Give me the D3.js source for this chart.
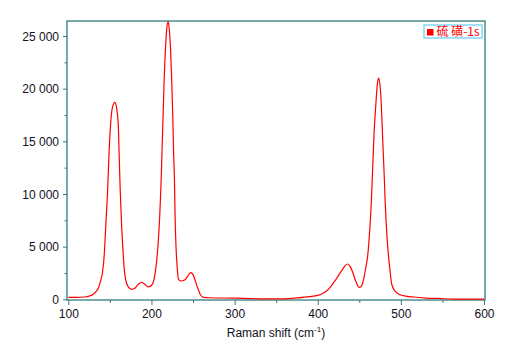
<!DOCTYPE html>
<html>
<head>
<meta charset="utf-8">
<script src="https://cdn.jsdelivr.net/npm/d3@7"></script>
<style>
    body { margin: 0; background: #fff; }
    svg { display: block; font-family: Arial, "Liberation Sans", sans-serif; }
</style>
</head>
<body>
<div id="chart"></div>
<script>
// Raman spectrum
var shifts = [100, 110, 120, 125, 130, 133, 136, 139, 141, 143, 145.2, 147.3, 148.8, 150.9, 153, 156,
    158, 160, 161.2, 162.4, 164, 166, 167, 169, 172, 176, 180, 184, 188, 192, 196, 199, 202, 205,
    207.6, 210, 211.6, 212.8, 214, 215.2, 216.9, 218.5, 220, 221.5, 222.9, 224.4, 225.6, 226.5,
    227.7, 228.4, 229.6, 231, 232.5, 235, 240, 244, 247, 250, 253, 255, 257.5, 259, 263, 270, 300,
    330, 360, 375, 390, 400, 406, 412, 420, 428, 433, 436, 439, 441, 446, 450, 452, 454, 458, 460,
    462, 464.4, 466, 467.6, 470, 471.8, 473.2, 474.8, 476.4, 478, 479.7, 481.2, 483.3, 485.2, 486.9,
    488.8, 492, 496, 500, 506, 515, 530, 545, 564, 580, 600];
var intensities = [190, 190, 220, 300, 480, 700, 1050, 1800, 2500, 4000, 7200, 10400, 13550, 16700, 18200, 18700,
    18200, 16700, 13550, 10400, 7200, 4300, 3100, 1850, 1200, 950, 1050, 1400, 1620, 1420, 1180, 1250, 1600, 2800,
    4850, 8000, 11170, 14350, 17500, 20670, 23850, 25800, 26370, 25600, 23850, 20670, 17500, 14350,
    11170, 8000, 4850, 3000, 1900, 1740, 1830, 2250, 2530, 2350, 1700, 1200, 700, 410, 190, 150, 110,
    50, 50, 130, 250, 380, 560, 880, 1670, 2620, 3200, 3350, 3100, 2780, 1670, 1140, 1200, 1520, 3100, 4050,
    5950, 9120, 12280, 15450, 18620, 20500, 21000, 20400, 18620, 15450, 12280, 9120, 5950, 4050, 2780,
    1520, 880, 580, 410, 310, 220, 120, 80, 20, 20, 20];
var xTicks = [100, 200, 300, 400, 500, 600];
var xMinorTicks = [150, 250, 350, 450, 550];
var yTicks = [0, 5000, 10000, 15000, 20000, 25000];
var yMinorTicks = [2500, 7500, 12500, 17500, 22500];
var seriesName = "硫 磺-1s";

var width = 526, height = 359,
    margin = {top: 21, right: 41, bottom: 59, left: 67},
    frameColor = "#327d7b";

var svg = d3.select("#chart").append("svg")
    .attr("width", width)
    .attr("height", height);

var xScale = d3.scaleLinear()
    .domain([98.4, 601.2])
    .range([margin.left, width - margin.right]);
var yScale = d3.scaleLinear()
    .domain([-66, 26424])
    .range([height - margin.bottom, margin.top]);

var fmt = function (d) {
    return d3.format(",")(d).replace(/,/g, " ");
};

// x axis, major then minor ticks
var xAxis = svg.append("g")
    .attr("transform", "translate(0," + (height - margin.bottom) + ")")
    .call(d3.axisBottom(xScale).tickValues(xTicks).tickSize(5).tickPadding(4).tickFormat(d3.format("d")));
svg.append("g")
    .attr("transform", "translate(0," + (height - margin.bottom) + ")")
    .call(d3.axisBottom(xScale).tickValues(xMinorTicks).tickSize(3).tickFormat(""))
    .call(function (g) { g.select(".domain").remove(); });

var yAxis = svg.append("g")
    .attr("transform", "translate(" + margin.left + ",0)")
    .call(d3.axisLeft(yScale).tickValues(yTicks).tickSize(4).tickPadding(4).tickFormat(fmt));
svg.append("g")
    .attr("transform", "translate(" + margin.left + ",0)")
    .call(d3.axisLeft(yScale).tickValues(yMinorTicks).tickSize(2.5).tickFormat(""))
    .call(function (g) { g.select(".domain").remove(); });

svg.selectAll(".domain").remove();
svg.selectAll(".tick line").attr("stroke", frameColor);
svg.selectAll(".tick text")
    .attr("fill", "#111122")
    .style("font-size", "12px");
yAxis.selectAll(".tick text").attr("dy", "0.36em");

// plot frame
svg.append("rect")
    .attr("x", margin.left)
    .attr("y", margin.top)
    .attr("width", width - margin.left - margin.right)
    .attr("height", height - margin.top - margin.bottom)
    .attr("fill", "none")
    .attr("stroke", frameColor)
    .attr("stroke-width", 1.3);

// spectrum
var points = shifts.map(function (s, i) { return [s, intensities[i]]; });
var line = d3.line()
    .x(function (d) { return xScale(d[0]); })
    .y(function (d) { return yScale(d[1]); })
    .curve(d3.curveMonotoneX);

svg.append("path")
    .datum(points)
    .attr("fill", "none")
    .attr("stroke", "#ff0000")
    .attr("stroke-width", 1.2)
    .attr("d", line);

// axis title with superscript
var title = svg.append("text")
    .attr("x", (margin.left + width - margin.right) / 2)
    .attr("y", 337)
    .attr("text-anchor", "middle")
    .attr("fill", "#111122")
    .style("font-size", "12px");
title.append("tspan").text("Raman shift (cm");
title.append("tspan").attr("dy", -5).style("font-size", "8px").text("-1");
title.append("tspan").attr("dy", 5).text(")");

// legend
var legend = svg.append("g").attr("transform", "translate(424,25)");
legend.append("rect")
    .attr("width", 58)
    .attr("height", 13)
    .attr("fill", "#fff")
    .attr("stroke", "#45c3ee")
    .attr("stroke-width", 1);
legend.append("rect")
    .attr("x", 3)
    .attr("y", 4)
    .attr("width", 6.5)
    .attr("height", 6.5)
    .attr("fill", "#ff0000");
legend.append("text")
    .attr("x", 12.5)
    .attr("y", 11)
    .attr("fill", "#ff0000")
    .style("font-family", "'Noto Sans CJK SC', Arial, sans-serif")
    .style("font-size", "12px")
    .text(seriesName);
</script>
</body>
</html>
